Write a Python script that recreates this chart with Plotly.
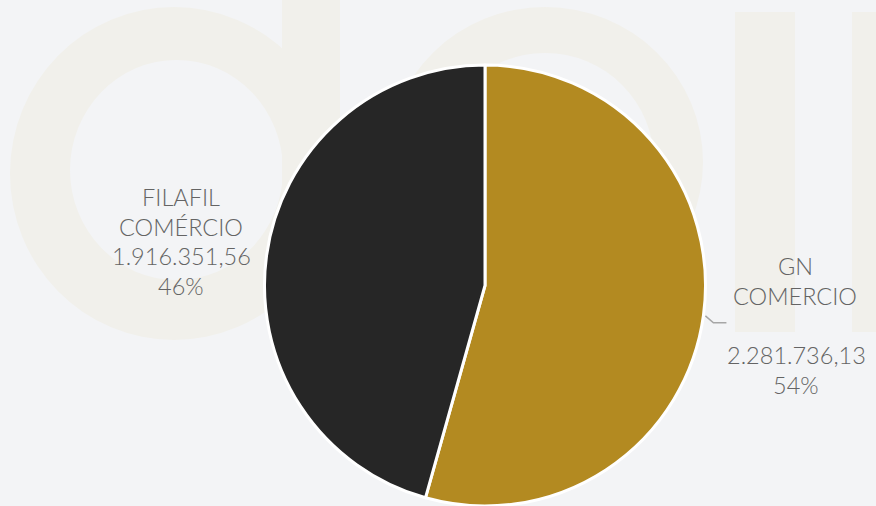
import math
import plotly.graph_objects as go

# ---- data ----
labels = ["GN COMERCIO", "FILAFIL COMÉRCIO"]
label_lines = [["GN", "COMERCIO"], ["FILAFIL", "COMÉRCIO"]]
values = [2281736.13, 1916351.56]
colors = ["#b38a21", "#262626"]

W, H = 876, 506
BG = "#f3f4f6"
WM = "#f1f0eb"
TXT = "#646464"
FONT = "Lato"
LINE = 29.6


def px(x):
    return x / W


def py(y):
    return 1 - y / H


def br(v):
    s = f"{v:,.2f}"
    return s.replace(",", "X").replace(".", ",").replace("X", ".")


total = sum(values)
pcts = [round(v / total * 100) for v in values]

# pie geometry (pixels)
cx = 485
top = 65
r = (H - top) / 2
cy = top + r

fig = go.Figure()
fig.add_trace(go.Pie(
    labels=labels,
    values=values,
    marker=dict(colors=colors, line=dict(color="white", width=3)),
    sort=False,
    direction="clockwise",
    rotation=0,
    textinfo="none",
    hoverinfo="label+value+percent",
    showlegend=False,
    domain=dict(x=[px(cx - r - 0.5), px(cx + r + 0.5)], y=[0, py(top)]),
))

# ---- watermark "dall" (decorative, behind pie) ----
shapes = []


def ellipse(x0, y0, x1, y1, color):
    return dict(type="circle", xref="paper", yref="paper", layer="below",
                x0=px(x0), x1=px(x1), y0=py(y1), y1=py(y0),
                fillcolor=color, line=dict(width=0))


def rect(x0, y0, x1, y1, color):
    return dict(type="rect", xref="paper", yref="paper", layer="below",
                x0=px(x0), x1=px(x1), y0=py(y1), y1=py(y0),
                fillcolor=color, line=dict(width=0))


# d
shapes.append(ellipse(10, 7, 338, 340, WM))
shapes.append(ellipse(70, 60, 283, 280, BG))
shapes.append(rect(282, -5, 340, 336, WM))
# a
shapes.append(ellipse(545 - 158, 7, 545 + 158, 7 + 310, WM))
shapes.append(ellipse(545 - 109, 53, 545 + 109, 53 + 218, BG))
# l l
shapes.append(rect(735, 12, 795, 332, WM))
shapes.append(rect(852, 12, 912, 332, WM))

# leader line for the first slice, from its mid angle
mid = (values[0] / total) * math.pi
lx0 = cx + (r + 2) * math.sin(mid)
ly0 = cy - (r + 2) * math.cos(mid)
path = (f"M {px(lx0)},{py(ly0)} L {px(lx0 + 8)},{py(ly0 + 7)} "
        f"L {px(lx0 + 21)},{py(ly0 + 7)}")
shapes.append(dict(type="path", xref="paper", yref="paper", path=path,
                   line=dict(color="#a6a6a6", width=1.5)))

font = dict(family=FONT, size=23.5, color=TXT, weight=300)


def text_block(lines, x, y_first):
    out = []
    for i, t in enumerate(lines):
        out.append(dict(x=px(x), y=py(y_first + i * LINE), xref="paper",
                        yref="paper", showarrow=False, xanchor="center",
                        yanchor="middle", font=font, text=t))
    return out


annotations = []
annotations += text_block(label_lines[1] + [br(values[1]), f"{pcts[1]}%"], 181, 197)
annotations += text_block(label_lines[0], 795, 266)
annotations += text_block([br(values[0]), f"{pcts[0]}%"], 796, 355)

fig.update_layout(
    width=W, height=H,
    margin=dict(l=0, r=0, t=0, b=0, pad=0),
    paper_bgcolor=BG, plot_bgcolor=BG,
    shapes=shapes, annotations=annotations,
    font=dict(family=FONT, color=TXT),
)

fig.write_html(
    "out.html",
    config={"displayModeBar": False},
    post_script="document.body.style.margin='0';"
                "document.body.style.overflow='hidden';",
)
